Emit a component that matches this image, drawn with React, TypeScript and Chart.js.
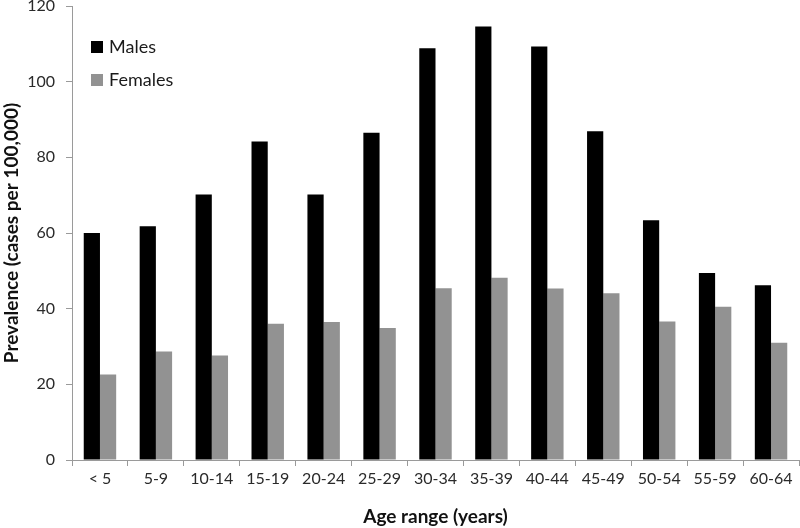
import React, { useEffect, useRef } from "react";
import { Chart, registerables } from "chart.js";

Chart.register(...registerables);

const categories = ["< 5", "5-9", "10-14", "15-19", "20-24", "25-29", "30-34", "35-39", "40-44", "45-49", "50-54", "55-59", "60-64"];
const males = [60.0, 61.8, 70.2, 84.2, 70.2, 86.5, 108.8, 114.6, 109.3, 86.9, 63.4, 49.4, 46.2];
const females = [22.6, 28.7, 27.6, 36.0, 36.5, 34.9, 45.4, 48.2, 45.3, 44.1, 36.6, 40.5, 31.0];
const seriesLabels = ["Males", "Females"];
const yTitle = "Prevalence (cases per 100,000)";
const xTitle = "Age range (years)";

const FONT = "Lato, 'Open Sans', sans-serif";
const AXIS = "#9a9a9a";

const insideLegend = {
  id: "insideLegend",
  afterDraw(chart: any) {
    const { ctx, chartArea } = chart;
    const x0 = chartArea.left + 19;
    const y0 = chartArea.top + 35;
    ctx.save();
    ctx.font = `18px ${FONT}`;
    ctx.textBaseline = "middle";
    ctx.textAlign = "left";
    chart.data.datasets.forEach((ds: any, i: number) => {
      const y = y0 + i * 33;
      ctx.fillStyle = ds.backgroundColor;
      ctx.fillRect(x0, y, 12, 12);
      ctx.fillStyle = "#1a1a1a";
      ctx.fillText(ds.label, x0 + 18, y + 6);
    });
    ctx.restore();
  },
};

export default function App() {
  const ref = useRef<HTMLCanvasElement>(null);
  useEffect(() => {
    document.body.style.margin = "0";
    const chart = new Chart(ref.current!, {
      type: "bar",
      data: {
        labels: categories,
        datasets: [
          { label: seriesLabels[0], data: males, backgroundColor: "#000000", borderWidth: 0 },
          { label: seriesLabels[1], data: females, backgroundColor: "#929292", borderWidth: 0 },
        ],
      },
      options: {
        animation: false,
        responsive: true,
        maintainAspectRatio: false,
        layout: { padding: { top: 6, left: 0, right: 1, bottom: 0 } },
        datasets: { bar: { barPercentage: 1, categoryPercentage: 0.58 } },
        plugins: { legend: { display: false }, tooltip: { enabled: false } },
        scales: {
          x: {
            offset: true,
            grid: { display: true, drawOnChartArea: false, drawTicks: true, tickLength: 6, color: AXIS, offset: true },
            border: { display: true, color: AXIS, width: 1 },
            ticks: { font: { family: FONT, size: 16 }, color: "#2a2a2a", padding: 3, maxRotation: 0, autoSkip: false },
            title: { display: true, text: xTitle, font: { family: FONT, size: 19, weight: "bold" }, color: "#111111", padding: { top: 0, bottom: 0 } },
            afterFit(scale: any) {
              scale.height = 68;
              scale.paddingLeft = 0;
              scale.paddingRight = 0;
            },
          },
          y: {
            min: 0,
            max: 120,
            grid: { display: true, drawOnChartArea: false, drawTicks: true, tickLength: 6, color: AXIS },
            border: { display: true, color: AXIS, width: 1 },
            ticks: { stepSize: 20, font: { family: FONT, size: 16 }, color: "#2a2a2a", padding: 11 },
            title: { display: true, text: yTitle, font: { family: FONT, size: 19, weight: "bold" }, color: "#111111", padding: { top: 0.5, bottom: 0 } },
            afterFit(scale: any) {
              scale.width = 72;
              scale.paddingTop = 0;
              scale.paddingBottom = 0;
            },
          },
        },
      },
      plugins: [insideLegend],
    });
    return () => chart.destroy();
  }, []);
  return (
    <div style={{ width: 800, height: 528, position: "relative" }}>
      <canvas ref={ref} />
    </div>
  );
}
